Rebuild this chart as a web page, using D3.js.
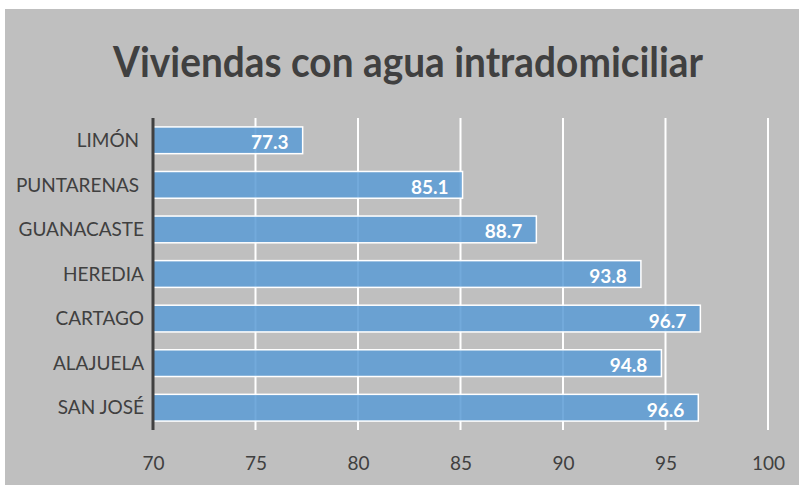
<!DOCTYPE html>
<html lang="es">
<head>
<meta charset="UTF-8">
<title>Viviendas con agua intradomiciliar</title>
<script src="https://d3js.org/d3.v7.min.js"></script>
<style>
    body { margin: 0; background: #fff; }
    svg { display: block; }
    .tick text { white-space: pre; }
</style>
</head>
<body>
<div id="chart"></div>
<script>
    // datos (las etiquetas originales traen un espacio al final en dos casos)
    var provincias = ['LIMÓN ', 'PUNTARENAS ', 'GUANACASTE', 'HEREDIA', 'CARTAGO', 'ALAJUELA', 'SAN JOSÉ'];
    var porcentajes = [77.3, 85.1, 88.7, 93.8, 96.7, 94.8, 96.6];
    var ticks = [70, 75, 80, 85, 90, 95, 100];

    var w = 799, h = 485;
    var m = {top: 118, left: 153, bottom: 55, right: 31};
    var font = 'Lato, "Open Sans", sans-serif';

    var svg = d3.select('#chart').append('svg')
        .attr('width', w)
        .attr('height', h);

    // panel gris
    svg.append('rect')
        .attr('x', 5).attr('y', 9)
        .attr('width', w - 5).attr('height', h - 9)
        .attr('fill', '#bfbfbf');

    svg.append('text')
        .attr('x', 408)
        .attr('y', 77)
        .attr('text-anchor', 'middle')
        .attr('font-family', font)
        .attr('font-weight', 'bold')
        .attr('font-size', 42)
        .attr('fill', '#404040')
        .attr('textLength', 590)
        .attr('lengthAdjust', 'spacingAndGlyphs')
        .text('Viviendas con agua intradomiciliar');

    var x = d3.scaleLinear().domain([70, 100]).range([m.left, w - m.right]);
    var y = d3.scaleBand().domain(provincias).range([m.top, h - m.bottom])
        .paddingInner(0.4).paddingOuter(0.2);

    // lineas de cuadricula
    svg.append('g')
        .selectAll('line')
        .data(ticks.slice(1))
        .enter().append('line')
        .attr('x1', d => x(d)).attr('x2', d => x(d))
        .attr('y1', m.top).attr('y2', h - m.bottom)
        .attr('stroke', '#ffffff')
        .attr('stroke-width', 2);

    // eje x
    var xAxis = svg.append('g')
        .attr('transform', 'translate(0,' + (h - m.bottom) + ')')
        .call(d3.axisBottom(x).tickValues(ticks).tickSize(0).tickPadding(0));
    xAxis.select('.domain').remove();
    xAxis.selectAll('text')
        .attr('y', 40)
        .attr('dy', 0)
        .attr('font-family', font)
        .attr('font-size', 19)
        .attr('fill', '#404040');

    // barras
    svg.append('g')
        .selectAll('rect')
        .data(provincias)
        .enter().append('rect')
        .attr('x', x(70))
        .attr('y', d => y(d))
        .attr('width', (d, i) => x(porcentajes[i]) - x(70))
        .attr('height', y.bandwidth())
        .attr('fill', '#5b9bd5')
        .attr('fill-opacity', 0.85)
        .attr('stroke', '#ffffff')
        .attr('stroke-width', 1.5);

    // etiquetas de datos
    svg.append('g')
        .selectAll('text')
        .data(provincias)
        .enter().append('text')
        .attr('x', (d, i) => x(porcentajes[i]) - 14)
        .attr('y', d => y(d) + y.bandwidth() / 2 + 9)
        .attr('text-anchor', 'end')
        .attr('font-family', font)
        .attr('font-weight', 'bold')
        .attr('font-size', 19)
        .attr('fill', '#ffffff')
        .text((d, i) => porcentajes[i].toFixed(1));

    // eje y
    var yAxis = svg.append('g')
        .attr('transform', 'translate(' + m.left + ',0)')
        .call(d3.axisLeft(y).tickSize(0).tickPadding(9));
    yAxis.select('.domain')
        .attr('stroke', '#404040')
        .attr('stroke-width', 3)
        .attr('d', 'M0,' + m.top + 'V' + (h - m.bottom));
    yAxis.selectAll('text')
        .attr('font-family', font)
        .attr('font-size', 19)
        .attr('fill', '#404040')
        .attr('dy', '0.35em');
</script>
</body>
</html>
